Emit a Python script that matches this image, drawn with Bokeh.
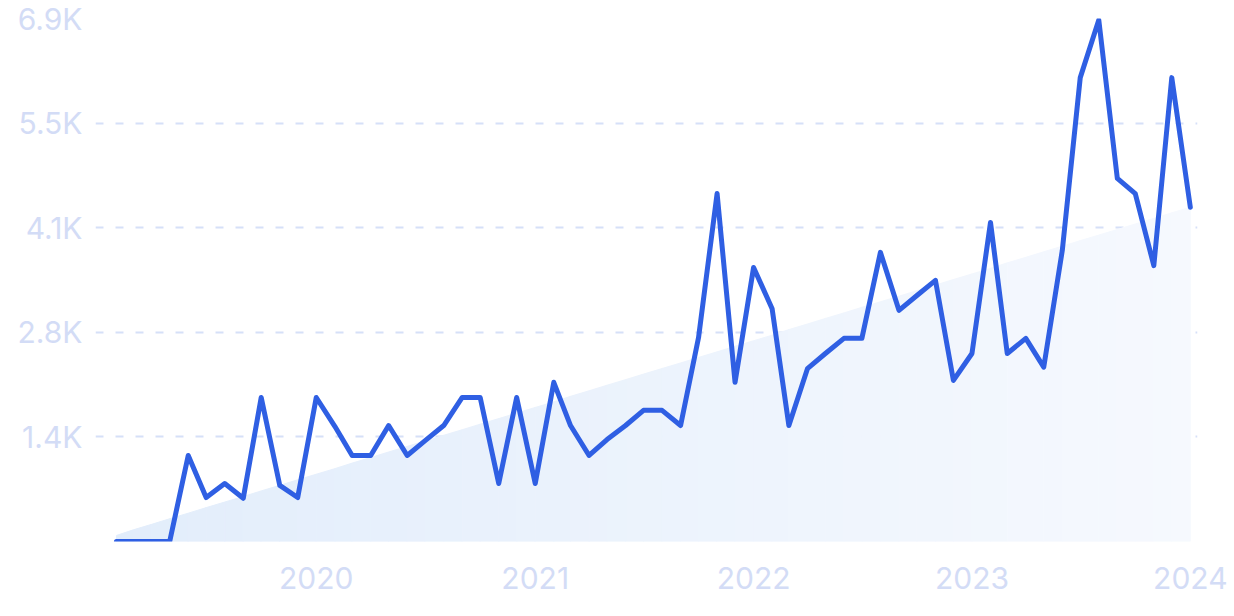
import pandas as pd
import numpy as np
from bokeh.plotting import figure
from bokeh.models import FixedTicker, DatetimeTickFormatter, Range1d
from bokeh.embed import file_html
from bokeh.resources import INLINE

# ---- data ----
start_month = "2019-02-01"
values = [0, 0, 0, 0, 1135, 580, 765, 570, 1900, 740,
          580, 1900, 1520, 1135, 1135, 1530, 1135, 1330, 1530, 1900,
          1900, 765, 1900, 765, 2100, 1530, 1135, 1345, 1530, 1730,
          1730, 1530, 2690, 4590, 2100, 3615, 3070, 1530, 2280, 2480,
          2680, 2680, 3815, 3050, 3245, 3445, 2125, 2480, 4210, 2480,
          2680, 2300, 3840, 6120, 6880, 4790, 4590, 3640, 6120, 4410]
trend_ends = [80, 4410]
y_ticks = [1380, 2760, 4140, 5520, 6900]
y_labels = ["1.4K", "2.8K", "4.1K", "5.5K", "6.9K"]
x_tick_years = [2020, 2021, 2022, 2023, 2024]

dates = pd.date_range(start_month, periods=len(values), freq="MS")

LINE = "#2f5fe3"
LABEL = "#d3dcf6"
GRID = "#d6e0f8"
FONT = "Inter"

d0, d1 = dates[0], dates[-1]
x_start = d0 - pd.Timedelta(days=35)
x_end = d1 + pd.Timedelta(days=12)

p = figure(width=1234, height=600, output_backend="svg", toolbar_location=None,
           x_axis_type="datetime",
           x_range=Range1d(x_start, x_end), y_range=Range1d(0, 6900),
           min_border_left=95, min_border_right=37, min_border_top=18, min_border_bottom=59)
p.outline_line_color = None
p.background_fill_color = "white"
p.border_fill_color = "white"

# gradient trend area, sliced
n = len(dates)
t0, t1 = trend_ends
c0 = np.array([226, 237, 251])
c1 = np.array([246, 249, 254])
xs, ys, cols = [], [], []
for i in range(n - 1):
    a = i / (n - 1)
    b = (i + 1) / (n - 1)
    ya = t0 + (t1 - t0) * a
    yb = t0 + (t1 - t0) * b
    xs.append([dates[i], dates[i + 1], dates[i + 1], dates[i]])
    ys.append([0, 0, yb, ya])
    c = c0 + (c1 - c0) * ((a + b) / 2)
    cols.append("#%02x%02x%02x" % tuple(int(round(v)) for v in c))
p.patches(xs=xs, ys=ys, fill_color=cols, line_color=cols, line_width=1)

p.line(x=dates, y=values, line_color=LINE, line_width=5, line_join="round", line_cap="round")

# axes
p.yaxis.ticker = FixedTicker(ticks=y_ticks)
p.yaxis.major_label_overrides = {t: l for t, l in zip(y_ticks, y_labels)}
p.xaxis.ticker = FixedTicker(ticks=[pd.Timestamp(f"{y}-01-01").value / 1e6 for y in x_tick_years])
p.xaxis.formatter = DatetimeTickFormatter(years="%Y", months="%Y", days="%Y", hours="%Y")

for ax in (p.xaxis, p.yaxis):
    ax.axis_line_color = None
    ax.major_tick_line_color = None
    ax.minor_tick_line_color = None
    ax.major_tick_out = 0
    ax.major_tick_in = 0
    ax.major_label_text_color = LABEL
    ax.major_label_text_font = FONT
    ax.major_label_text_font_size = "30px"
p.yaxis.major_label_standoff = 13
p.xaxis.major_label_standoff = 25

p.xgrid.grid_line_color = None
p.ygrid.grid_line_color = GRID
p.ygrid.grid_line_dash = "8 12"
p.ygrid.grid_line_width = 2

open("out.html", "w").write(file_html(p, INLINE))
